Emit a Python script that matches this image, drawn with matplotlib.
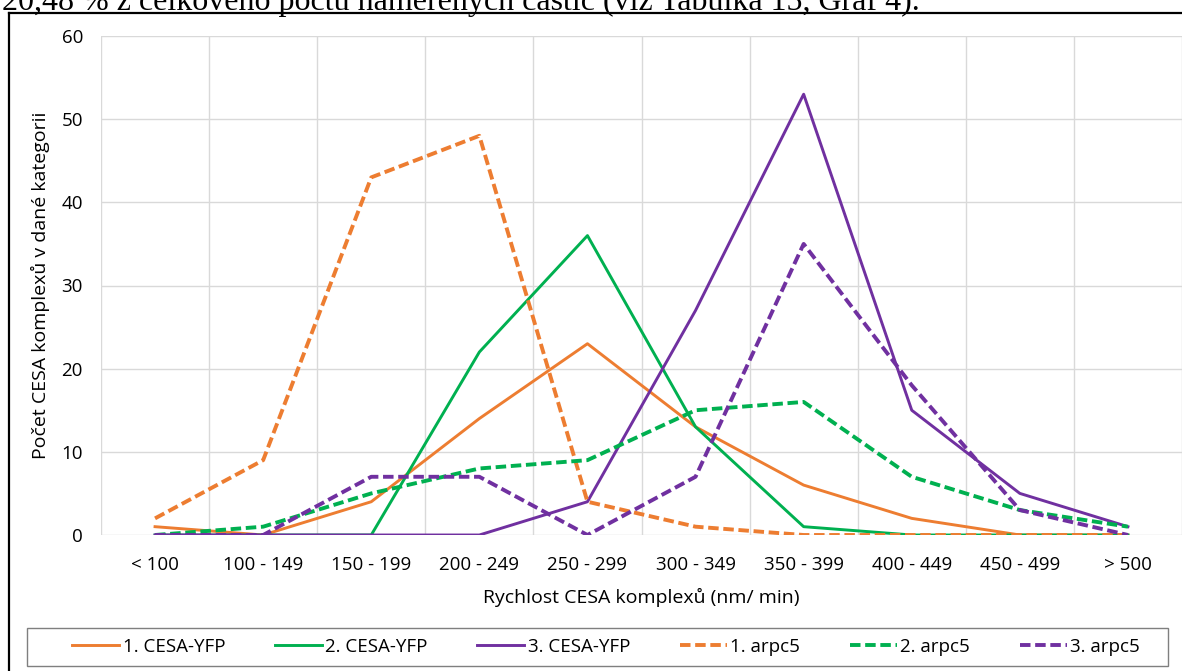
import matplotlib.pyplot as plt
from matplotlib.lines import Line2D
from matplotlib.patches import Rectangle
import numpy as np

plt.rcParams["font.family"] = ["Open Sans", "DejaVu Sans"]

# rychlostní kategorie (nm/min)
categories = ["< 100", "100 - 149", "150 - 199", "200 - 249", "250 - 299",
              "300 - 349", "350 - 399", "400 - 449", "450 - 499", "> 500"]

cesa_yfp_1 = [1, 0, 4, 14, 23, 13, 6, 2, 0, 0]
cesa_yfp_2 = [0, 0, 0, 22, 36, 13, 1, 0, 0, 0]
cesa_yfp_3 = [0, 0, 0, 0, 4, 27, 53, 15, 5, 1]
arpc5_1 = [2, 9, 43, 48, 4, 1, 0, 0, 0, 0]
arpc5_2 = [0, 1, 5, 8, 9, 15, 16, 7, 3, 1]
arpc5_3 = [0, 0, 7, 7, 0, 7, 35, 18, 3, 0]

ORANGE = "#ED7D31"
GREEN = "#00B050"
PURPLE = "#7030A0"

series = [
    ("1. CESA-YFP", cesa_yfp_1, ORANGE, "-"),
    ("2. CESA-YFP", cesa_yfp_2, GREEN, "-"),
    ("3. CESA-YFP", cesa_yfp_3, PURPLE, "-"),
    ("1. arpc5", arpc5_1, ORANGE, "--"),
    ("2. arpc5", arpc5_2, GREEN, "--"),
    ("3. arpc5", arpc5_3, PURPLE, "--"),
]

W, H = 1182, 671
fig = plt.figure(figsize=(W / 100, H / 100), dpi=100)
ax = fig.add_axes([101 / W, 1 - 535 / H, (1182 - 101) / W, (535 - 36) / H])

x = np.arange(len(categories))
for label, vals, color, ls in series:
    if ls == "-":
        ax.plot(x, vals, color=color, lw=2.1, label=label, solid_joinstyle="round")
    else:
        ax.plot(x, vals, color=color, lw=2.8, label=label, dashes=(2.7, 1.2),
                dash_capstyle="butt", dash_joinstyle="round")

ax.set_xlim(-0.5, len(categories) - 0.5)
ax.set_ylim(0, 60)
ax.set_yticks(range(0, 61, 10))
ax.set_xticks(x)
ax.set_xticklabels(categories)
ax.set_xticks(np.arange(-0.5, len(categories), 1), minor=True)

ax.grid(True, which="major", axis="y", color="#D9D9D9", lw=1)
ax.grid(True, which="minor", axis="x", color="#D9D9D9", lw=1)
ax.set_axisbelow(True)
for s in ax.spines.values():
    s.set_visible(False)
ax.tick_params(which="both", length=0)
ax.tick_params(axis="y", labelsize=13.5, colors="#000000", pad=13)
ax.tick_params(axis="x", labelsize=13.5, colors="#000000", pad=15)

ax.set_xlabel("Rychlost CESA komplexů (nm/ min)", fontsize=14, labelpad=10)
ax.set_ylabel("Počet CESA komplexů v dané kategorii", fontsize=14, labelpad=8)

# legenda v jednom řádku, rámeček kreslený zvlášť
ax.legend(loc="center left", bbox_to_anchor=(72 / W, 1 - 666 / H, (1140 - 72) / W, 38 / H),
          bbox_transform=fig.transFigure, ncol=6, mode="expand", fontsize=13.5,
          frameon=False, handlelength=2.5, handletextpad=0.2,
          borderaxespad=0, borderpad=0)
fig.add_artist(Rectangle((27 / W, 1 - 666 / H), (1168 - 27) / W, 38 / H,
                         transform=fig.transFigure, fill=False,
                         edgecolor="#7F7F7F", lw=1.0))

# rámeček grafu v dokumentu
fig.add_artist(Line2D([8.5 / W, 8.5 / W], [1 - 12.5 / H, 0], transform=fig.transFigure,
                      color="black", lw=1.6))
fig.add_artist(Line2D([8.5 / W, 1], [1 - 12.5 / H, 1 - 12.5 / H], transform=fig.transFigure,
                      color="black", lw=1.6))

# okolní text dokumentu
fig.text(2 / W, 1 - 10 / H, "20,48 % z celkového počtu naměřených částic (viz Tabulka 15, Graf 4).",
         family=["Liberation Serif", "DejaVu Serif"], fontsize=23, va="baseline", ha="left")

fig.savefig("out.png", dpi=100)
